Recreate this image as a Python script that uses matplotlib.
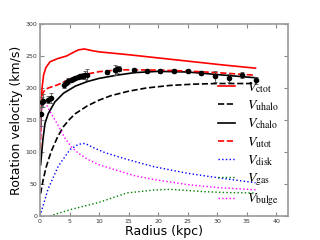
import numpy as np
import matplotlib
matplotlib.use("Agg")
import matplotlib.pyplot as plt

plt.rcParams['mathtext.fontset'] = 'stix'

# observed rotation curve
r_obs = [0.15, 0.3, 0.55, 1.3, 1.8, 4.0, 4.4, 4.8, 5.2, 5.6, 6.0, 6.4, 6.8, 7.2, 7.6, 8.0,
         11.3, 12.7, 13.0, 13.4, 15.9, 18.2, 20.4, 22.7, 25.0, 27.3, 29.7, 32.0, 34.2, 36.5]
v_obs = [160, 178, 180, 182, 184, 205, 208, 211, 213, 214, 216, 217, 218, 219, 220, 221,
         225, 228, 229, 230, 228, 227, 227, 227, 227, 223, 218, 216, 220, 212]
e_obs = [20, 8, 10, 6, 8, 5, 4, 4, 3, 3, 3, 3, 4, 5, 6, 8,
         3, 8, 6, 4, 3, 3, 3, 3, 3, 3, 9, 6, 5, 5]

# model curves
r_ctot = [0.05, 0.2, 0.35, 0.6, 1.0, 1.7, 3.0, 4.5, 5.5, 6.5, 7.5, 9.0, 10.0, 15.0, 20.0, 26.0, 31.0, 36.5]
v_ctot = [130, 175, 200, 220, 232, 241, 246, 250, 255, 259.5, 261, 258, 256.5, 252, 247, 241, 236, 231]

r_uhalo = [0.1, 0.5, 1.0, 1.5, 2.0, 3.0, 4.0, 5.0, 6.0, 8.0, 10.0, 12.0, 15.0, 18.0, 22.0, 26.0, 30.0, 36.5]
v_uhalo = [35, 55, 75, 90, 103, 124, 140, 151, 160, 172, 181, 188, 195, 200, 204, 206, 207, 207]

r_chalo = [0.1, 0.5, 0.85, 1.4, 2.5, 4.0, 6.0, 8.0, 10.0, 13.0, 16.0, 20.0, 25.0, 30.0, 36.5]
v_chalo = [80, 120, 145, 160, 178, 192, 203, 210, 215, 220, 224, 226, 225, 221, 216]

r_utot = [0.05, 0.2, 0.4, 0.8, 1.4, 3.0, 5.3, 7.0, 10.0, 13.5, 20.0, 25.0, 30.0, 36.5]
v_utot = [105, 160, 190, 197, 200, 205, 215, 220, 225.5, 228.5, 228, 226.5, 224, 220]

r_disk = [0.0, 1.36, 3.1, 5.1, 6.5, 7.6, 9.0, 11.0, 14.7, 19.3, 25.0, 30.7, 36.5]
v_disk = [0, 42, 78, 104, 112, 113.5, 107, 99, 88.5, 77, 66.7, 59, 52]

r_gas = [1.65, 5.3, 9.9, 14.7, 19.3, 22.1, 27.8, 32.0, 36.5]
v_gas = [0, 10.4, 21, 36, 40.6, 41.7, 38, 36.5, 36]

r_bulge = [0.1, 0.3, 0.7, 1.2, 2.0, 3.0, 4.2, 5.3, 6.5, 8.2, 10.0, 13.5, 16.0, 19.3, 25.0, 30.7, 36.5]
v_bulge = [120, 170, 180, 172, 158, 143, 122, 108, 98, 88, 80, 70, 63, 57, 49, 44, 41]

fig = plt.figure(figsize=(3.2, 2.4), dpi=100)
ax = fig.add_axes([0.125, 0.1, 0.775, 0.8])

ax.errorbar(r_obs, v_obs, yerr=e_obs, fmt='o', color='k', ms=3, ecolor='#555555',
            elinewidth=0.6, capsize=1.5, capthick=0.6, zorder=5)
ax.plot(r_ctot, v_ctot, '-', color='red', lw=1.2, label=r'$V_{\rm ctot}$')
ax.plot(r_uhalo, v_uhalo, '--', color='k', lw=1.2, label=r'$V_{\rm uhalo}$')
ax.plot(r_chalo, v_chalo, '-', color='k', lw=1.2, label=r'$V_{\rm chalo}$')
ax.plot(r_utot, v_utot, '--', color='red', lw=1.2, label=r'$V_{\rm utot}$')
ax.plot(r_disk, v_disk, ':', color='blue', lw=1.0, label=r'$V_{\rm disk}$')
ax.plot(r_gas, v_gas, ':', color='green', lw=1.0, label=r'$V_{\rm gas}$')
ax.plot(r_bulge, v_bulge, ':', color='magenta', lw=1.0, label=r'$V_{\rm bulge}$')

ax.set_xlim(0, 42)
ax.set_ylim(0, 300)
ax.set_xticks(np.arange(0, 41, 5))
ax.set_yticks(np.arange(0, 301, 50))
ax.tick_params(direction='in', top=True, right=True, labelsize=4.5,
               labelcolor='#333333', color='#888888', length=3, width=0.8, pad=2)
for s in ax.spines.values():
    s.set_color('#999999')
    s.set_linewidth(1.2)

ax.set_xlabel('Radius (kpc)', fontsize=9, labelpad=1)
ax.set_ylabel('Rotation velocity (km/s)', fontsize=9, labelpad=2)

ax.legend(loc='upper left', bbox_to_anchor=(0.69, 0.745), frameon=False, fontsize=10,
          handlelength=1.2, handletextpad=0.85, labelspacing=0.25, borderpad=0)

fig.savefig('out.png', dpi=100)
